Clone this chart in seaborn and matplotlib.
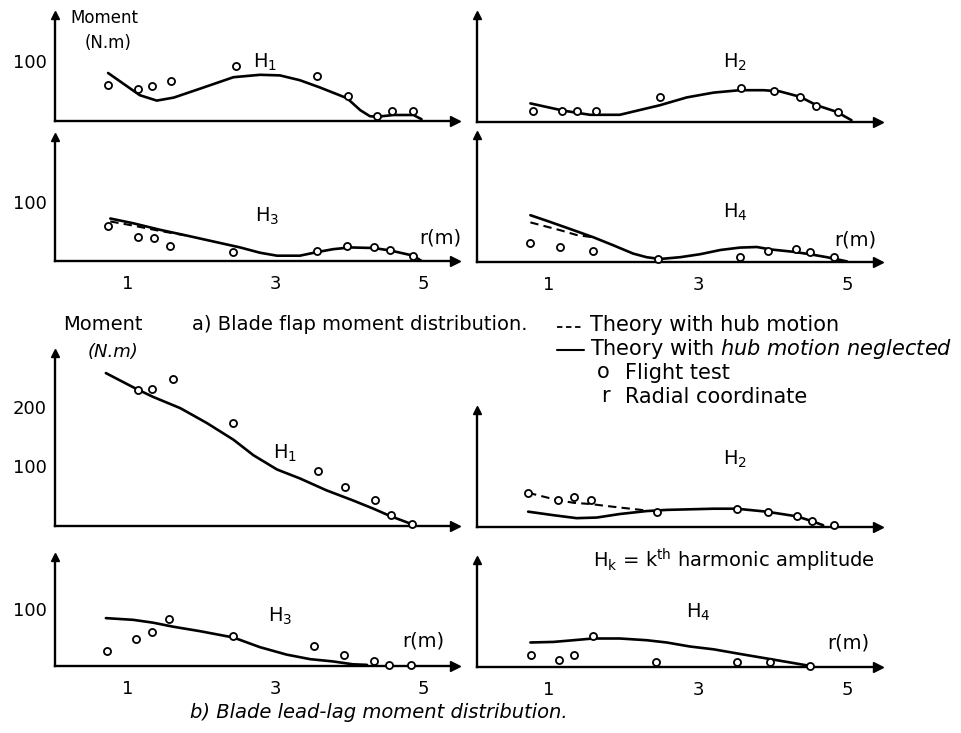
import matplotlib
matplotlib.use("Agg")
import matplotlib.pyplot as plt
from matplotlib.lines import Line2D
import seaborn as sns

# ---------------------------------------------------------------------------
# Radial stations r (m) and harmonic moment amplitudes (N.m)
# ---------------------------------------------------------------------------
# a) flap moment
flap_h1_r = [0.73, 1.16, 1.39, 1.62, 1.98, 2.43, 2.79, 3.06, 3.33, 3.60, 3.97, 4.15, 4.28, 4.37, 4.60, 4.87, 4.98]
flap_h1_neglected = [80, 43, 34, 39, 54, 73, 77, 76, 68, 56, 38, 18, 8, 7, 10, 10, 3]
flap_h1_test_r = [0.73, 1.13, 1.33, 1.58, 2.47, 3.56, 3.98, 4.37, 4.58, 4.86]
flap_h1_test = [60, 54, 58, 66, 92, 75, 41, 9, 16, 17]

flap_h2_r = [0.75, 1.19, 1.55, 1.95, 2.22, 2.49, 2.85, 3.21, 3.56, 3.88, 4.10, 4.37, 4.59, 4.86, 5.06]
flap_h2_neglected = [31, 19, 12, 12, 20, 28, 41, 49, 53, 53, 51, 42, 28, 17, 3]
flap_h2_test_r = [0.78, 1.18, 1.38, 1.63, 2.49, 3.58, 4.02, 4.37, 4.58, 4.88]
flap_h2_test = [19, 19, 19, 18, 41, 56, 52, 42, 26, 16]

flap_h3_r = [0.76, 1.07, 1.43, 1.80, 2.16, 2.52, 2.79, 3.02, 3.33, 3.56, 3.78, 4.01, 4.33, 4.55, 4.87, 4.98]
flap_h3_neglected = [72, 64, 53, 43, 33, 23, 14, 9, 9, 15, 20, 23, 22, 18, 9, 0]
flap_h3_hub_r = [0.76, 1.07, 1.43, 1.80]
flap_h3_hub = [67, 60, 51, 43]
flap_h3_test_r = [0.73, 1.13, 1.35, 1.57, 2.43, 3.56, 3.97, 4.33, 4.55, 4.87]
flap_h3_test = [60, 41, 39, 25, 16, 17, 26, 23, 18, 9]

flap_h4_r = [0.75, 1.01, 1.33, 1.60, 1.86, 2.13, 2.31, 2.49, 2.76, 3.03, 3.30, 3.56, 3.79, 3.97, 4.28, 4.50, 4.73, 5.00]
flap_h4_neglected = [78, 67, 53, 41, 28, 14, 8, 5, 8, 13, 20, 24, 25, 21, 17, 13, 8, 1]
flap_h4_hub_r = [0.75, 1.15, 1.37, 1.60]
flap_h4_hub = [66, 53, 45, 41]
flap_h4_test_r = [0.75, 1.15, 1.59, 2.46, 3.56, 3.94, 4.32, 4.50, 4.83]
flap_h4_test = [32, 25, 19, 5, 8, 19, 21, 17, 9]

# b) lead-lag moment
lag_h1_r = [0.70, 1.12, 1.34, 1.71, 2.07, 2.43, 2.70, 3.02, 3.33, 3.69, 4.05, 4.33, 4.55, 4.85]
lag_h1_neglected = [257, 230, 217, 198, 173, 145, 119, 95, 80, 60, 43, 29, 17, 3]
lag_h1_test_r = [1.13, 1.33, 1.61, 2.42, 3.57, 3.94, 4.35, 4.56, 4.85]
lag_h1_test = [229, 231, 247, 173, 92, 66, 44, 18, 3]

lag_h2_r = [0.72, 1.06, 1.37, 1.64, 1.95, 2.31, 2.58, 3.21, 3.52, 3.92, 4.33, 4.55, 4.68]
lag_h2_neglected = [26, 20, 15, 16, 22, 27, 29, 31, 31, 26, 18, 9, 3]
lag_h2_hub_r = [0.72, 1.10, 1.33, 1.55, 1.95, 2.31]
lag_h2_hub = [58, 46, 41, 39, 33, 28]
lag_h2_test_r = [0.72, 1.12, 1.33, 1.57, 2.45, 3.53, 3.94, 4.33, 4.53, 4.83]
lag_h2_test = [58, 46, 51, 46, 26, 31, 26, 18, 11, 4]

lag_h3_r = [0.70, 1.07, 1.34, 1.61, 1.98, 2.43, 2.79, 3.15, 3.47, 3.78, 4.05, 4.24]
lag_h3_neglected = [84, 81, 76, 69, 61, 50, 33, 20, 12, 8, 3, 2]
lag_h3_test_r = [0.71, 1.11, 1.32, 1.56, 2.42, 3.52, 3.93, 4.33, 4.54, 4.84]
lag_h3_test = [27, 48, 60, 82, 52, 35, 19, 9, 2, 2]

lag_h4_r = [0.75, 1.06, 1.33, 1.59, 1.95, 2.31, 2.58, 2.89, 3.21, 3.56, 3.92, 4.19, 4.50]
lag_h4_neglected = [43, 44, 47, 50, 50, 47, 43, 36, 31, 23, 15, 9, 2]
lag_h4_test_r = [0.76, 1.13, 1.33, 1.59, 2.44, 3.53, 3.96, 4.50]
lag_h4_test = [21, 12, 21, 54, 8, 8, 8, 2]

r_ticks = [1, 3, 5]
r_tick_labels = ["1", "3", "5"]

# ---------------------------------------------------------------------------
sns.set_theme(style="white")
plt.rcParams.update({
    "font.family": ["DejaVu Sans"],
    "mathtext.fontset": "dejavusans",
    "text.color": "black",
    "axes.edgecolor": "black",
    "xtick.color": "black",
    "ytick.color": "black",
})

W, H = 962, 733
fig = plt.figure(figsize=(W / 100, H / 100), dpi=100)
fig.patch.set_facecolor("white")


def fx(px):
    return px / W


def fy(py):
    return 1 - py / H


def put(text, x, y, size=13, ha="left", va="center", style="normal"):
    fig.text(fx(x), fy(y), text, ha=ha, va=va, fontsize=size, style=style)


LEFT = dict(x0=55, x1=455, one=128, ppm=73.75)
RIGHT = dict(x0=477, x1=878, one=549, ppm=74.5)


def make_panel(col, ybase, ytop, px100, yticks, show_x, show_y, ypad=3):
    ax = fig.add_axes([fx(col["x0"]), fy(ybase),
                       (col["x1"] - col["x0"]) / W, (ybase - ytop) / H])
    r_lo = 1 + (col["x0"] - col["one"]) / col["ppm"]
    r_hi = 1 + (col["x1"] - col["one"]) / col["ppm"]
    ax.set_xlim(r_lo, r_hi)
    ax.set_ylim(0, (ybase - ytop) / px100 * 100)
    ax.set_facecolor("none")
    for s in ("top", "right"):
        ax.spines[s].set_visible(False)
    for s in ("left", "bottom"):
        ax.spines[s].set_linewidth(1.7)
        ax.spines[s].set_color("black")
    ax.set_xticks(r_ticks)
    ax.set_xticklabels(r_tick_labels if show_x else [])
    ax.set_yticks(yticks)
    ax.set_yticklabels([str(t) for t in yticks] if show_y else [])
    ax.tick_params(axis="both", direction="inout", length=6, width=1.3,
                   labelsize=13)
    ax.tick_params(axis="x", pad=7)
    ax.tick_params(axis="y", pad=ypad)
    # arrow heads at the ends of both axes
    ax.plot(1, 0, marker=">", ms=6.5, color="black", transform=ax.transAxes,
            clip_on=False)
    ax.plot(0, 1, marker="^", ms=6, color="black", transform=ax.transAxes,
            clip_on=False)
    ax.set_xlabel("")
    ax.set_ylabel("")
    return ax


def draw(ax, r, neglected, test_r, test, hub_r=None, hub=None):
    sns.lineplot(x=r, y=neglected, ax=ax, color="black", lw=1.9,
                 estimator=None, sort=False)
    if hub_r is not None:
        sns.lineplot(x=hub_r, y=hub, ax=ax, color="black", lw=1.5,
                     linestyle=(0, (4, 2.5)), estimator=None, sort=False)
    sns.scatterplot(x=test_r, y=test, ax=ax, s=26, color="white",
                    edgecolor="black", linewidth=1.3, zorder=5, clip_on=False)
    ax.set_xlabel("")
    ax.set_ylabel("")


# a) flap moment panels
ax = make_panel(LEFT, 121, 15, 60, [100], False, True)
draw(ax, flap_h1_r, flap_h1_neglected, flap_h1_test_r, flap_h1_test)
ax = make_panel(RIGHT, 122, 15, 60, [100], False, False)
draw(ax, flap_h2_r, flap_h2_neglected, flap_h2_test_r, flap_h2_test)
ax = make_panel(LEFT, 261, 137, 59, [100], True, True)
draw(ax, flap_h3_r, flap_h3_neglected, flap_h3_test_r, flap_h3_test,
     flap_h3_hub_r, flap_h3_hub)
ax = make_panel(RIGHT, 262, 135, 60, [100], True, False)
draw(ax, flap_h4_r, flap_h4_neglected, flap_h4_test_r, flap_h4_test,
     flap_h4_hub_r, flap_h4_hub)

# b) lead-lag moment panels
ax = make_panel(LEFT, 526, 353, 59.5, [100, 200], False, True)
draw(ax, lag_h1_r, lag_h1_neglected, lag_h1_test_r, lag_h1_test)
ax = make_panel(RIGHT, 527, 410, 59, [100], False, False)
draw(ax, lag_h2_r, lag_h2_neglected, lag_h2_test_r, lag_h2_test,
     lag_h2_hub_r, lag_h2_hub)
ax = make_panel(LEFT, 666, 557, 57, [100], True, True)
draw(ax, lag_h3_r, lag_h3_neglected, lag_h3_test_r, lag_h3_test)
ax = make_panel(RIGHT, 667, 560, 57, [100], True, False)
draw(ax, lag_h4_r, lag_h4_neglected, lag_h4_test_r, lag_h4_test)

# axis titles and harmonic labels
put("Moment", 70, 18, size=12)
put("(N.m)", 85, 43, size=12)
put(r"$\mathregular{H_1}$", 265, 62, size=14, ha="center")
put(r"$\mathregular{H_2}$", 735, 62, size=14, ha="center")
put(r"$\mathregular{H_3}$", 267, 216, size=14, ha="center")
put("r(m)", 440, 238, size=14, ha="center")
put(r"$\mathregular{H_4}$", 735, 212, size=14, ha="center")
put("r(m)", 855, 240, size=14, ha="center")
put("a) Blade flap moment distribution.", 192, 325, size=14)

put("Moment", 63, 325, size=14)
put("(N.m)", 88, 352, size=13, style="italic")
put(r"$\mathregular{H_1}$", 285, 453, size=14, ha="center")
put(r"$\mathregular{H_2}$", 735, 459, size=14, ha="center")
put(r"$\mathregular{H_k}$ = k$^{\mathregular{th}}$ harmonic amplitude", 593, 560, size=14)
put(r"$\mathregular{H_3}$", 280, 616, size=14, ha="center")
put("r(m)", 423, 641, size=14, ha="center")
put(r"$\mathregular{H_4}$", 698, 612, size=14, ha="center")
put("r(m)", 848, 643, size=14, ha="center")
put("b) Blade lead-lag moment distribution.", 190, 713, size=14, style="italic")

# key
fig.add_artist(Line2D([fx(557), fx(584)], [fy(327), fy(327)], color="black",
                      lw=1.3, linestyle=(0, (3, 2))))
put("Theory with hub motion", 590, 325, size=15)
fig.add_artist(Line2D([fx(557), fx(584)], [fy(350), fy(350)], color="black",
                      lw=1.5))
put(r"Theory with $\it{hub\ motion\ neglected}$", 590, 349, size=15)
put("o", 603, 372, size=15, ha="center")
put("Flight test", 625, 373, size=15)
put("r", 605, 396, size=15, ha="center")
put("Radial coordinate", 625, 397, size=15)

fig.savefig("out.png", dpi=100, facecolor="white")
